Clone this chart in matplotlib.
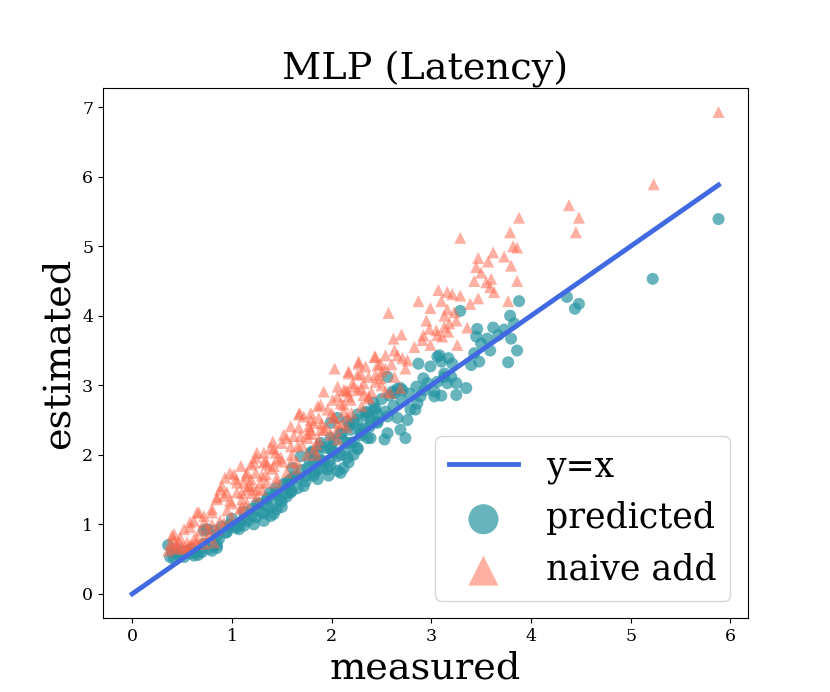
import matplotlib
matplotlib.use('Agg')
import matplotlib.pyplot as plt
import numpy as np

# (measured, estimated) pairs, latency in ms
predicted = np.array([
    [5.88, 5.39], [5.22, 4.53], [4.36, 4.27], [4.48, 4.17], [4.44, 4.10],
    [3.88, 4.21], [3.29, 4.07], [3.79, 4.00], [3.46, 3.81], [3.62, 3.83],
    [3.73, 3.80], [3.83, 3.89], [3.45, 3.70], [3.56, 3.67], [3.67, 3.72],
    [3.80, 3.67], [3.50, 3.60], [3.59, 3.50], [3.86, 3.50], [3.43, 3.46],
    [3.48, 3.34], [3.77, 3.33], [3.08, 3.43], [3.17, 3.39], [2.87, 3.31],
    [2.99, 3.27], [3.10, 3.34], [3.21, 3.31], [3.40, 3.29], [3.13, 3.17],
    [3.20, 3.12], [3.06, 3.05], [3.16, 3.03], [3.25, 3.03], [2.96, 3.03],
    [2.93, 2.93], [3.35, 2.96], [3.25, 2.86], [3.10, 2.85], [3.03, 2.91],
    [2.61, 2.91], [2.69, 2.96], [2.56, 3.12], [2.63, 2.89], [2.71, 2.93],
    [2.43, 2.65], [2.56, 2.55], [2.66, 2.53], [2.76, 2.50], [2.84, 2.65],
    [2.36, 2.55], [2.46, 2.46], [2.56, 2.31], [2.69, 2.36], [2.74, 2.24],
    [2.22, 2.46], [2.29, 2.36], [2.39, 2.24], [2.53, 2.22], [2.09, 2.31],
    [2.19, 2.17], [2.26, 2.08], [1.89, 2.12], [2.02, 2.03], [1.79, 2.03],
    [3.06, 3.41], [3.13, 3.12], [3.03, 2.84], [2.89, 2.84], [2.86, 2.74],
    [2.79, 2.65], [2.44, 2.67], [2.36, 2.60], [2.26, 2.58], [2.16, 2.48],
    [2.39, 2.50], [2.46, 2.58], [2.06, 2.53], [1.99, 2.46], [2.19, 2.36],
    [2.29, 2.31], [2.36, 2.24], [1.99, 2.24], [1.89, 2.17], [1.81, 2.05],
    [2.16, 2.17], [2.26, 2.10], [1.99, 2.08], [2.09, 2.00], [2.16, 1.96],
    [2.22, 2.00], [1.69, 1.98], [1.82, 1.93], [1.92, 1.91], [1.99, 1.84],
    [2.06, 1.77], [2.12, 1.81], [1.61, 1.81], [1.76, 1.81], [1.86, 1.79],
    [1.66, 1.67], [1.82, 1.70], [1.97, 1.70], [1.72, 1.55], [1.86, 1.65],
    [1.57, 1.55], [1.59, 1.65], [1.96, 1.79], [2.09, 1.74], [2.17, 1.89],
    [1.55, 1.60], [1.59, 1.46], [1.45, 1.41], [1.35, 1.27], [1.42, 1.15],
    [1.20, 1.12], [1.12, 1.08], [1.05, 0.98], [0.95, 0.89], [0.85, 0.84],
    [0.82, 0.70], [0.68, 0.62], [0.58, 0.58], [0.48, 0.55], [0.38, 0.53],
    [0.75, 0.93], [1.44, 1.46], [1.35, 1.36], [1.25, 1.29], [1.45, 1.22],
    [1.39, 1.12], [1.32, 1.05], [1.22, 1.00], [1.12, 0.98], [1.07, 0.93],
    [0.98, 0.96], [0.82, 0.91], [0.72, 0.91], [0.87, 0.79], [0.85, 0.70],
    [0.77, 0.65], [0.63, 0.60], [0.52, 0.53], [0.42, 0.50], [0.36, 0.70],
    [0.72, 0.72], [0.40, 0.60], [0.45, 0.58], [0.55, 0.62], [0.60, 0.65],
    [0.66, 0.56], [0.70, 0.60], [0.80, 0.62], [0.85, 0.66], [0.45, 0.65],
    [0.62, 0.55], [1.50, 1.33], [1.55, 1.40], [1.60, 1.48], [1.30, 1.18],
    [1.50, 1.25], [1.00, 1.08], [1.04, 0.95], [1.08, 1.02], [1.12, 1.18],
    [1.16, 1.05], [1.20, 1.22], [1.24, 1.10], [1.28, 1.30], [1.32, 1.16],
    [1.36, 1.38], [1.40, 1.25], [1.44, 1.52], [1.48, 1.36], [1.52, 1.58],
    [1.56, 1.45], [1.62, 1.68], [1.66, 1.52], [1.70, 1.78], [1.74, 1.62],
    [1.78, 1.90], [1.82, 1.75], [1.86, 2.00], [1.90, 1.80], [1.94, 2.10],
    [1.98, 1.92], [2.02, 2.20], [2.06, 1.98], [2.10, 2.30], [2.14, 2.06],
    [2.18, 2.42], [2.22, 2.18], [2.26, 2.50], [2.30, 2.28], [2.34, 2.62],
    [2.38, 2.40], [2.42, 2.75], [2.46, 2.48], [2.50, 2.80], [2.54, 2.62],
    [2.58, 2.85], [2.62, 2.70], [2.66, 2.95], [2.70, 2.78], [2.78, 2.88],
    [2.85, 2.98], [2.92, 3.10], [0.90, 0.97], [0.94, 0.88], [0.98, 1.00],
    [1.38, 1.45], [1.58, 1.62], [1.88, 1.92], [2.12, 2.20], [2.32, 2.38],
    [2.00, 2.10], [1.75, 1.70],
])

naive_add = np.array([
    [5.88, 6.93], [5.23, 5.89], [4.38, 5.59], [4.48, 5.41], [4.45, 5.20],
    [3.88, 5.41], [3.29, 5.12], [3.79, 5.20], [3.82, 5.00], [3.86, 4.98],
    [3.62, 4.91], [3.73, 4.85], [3.47, 4.83], [3.57, 4.78], [3.80, 4.72],
    [3.45, 4.70], [3.50, 4.62], [3.60, 4.53], [3.43, 4.50], [3.55, 4.48],
    [3.86, 4.50], [3.59, 4.41], [3.63, 4.34], [3.07, 4.37], [3.16, 4.34],
    [3.29, 4.29], [3.21, 4.31], [3.47, 4.25], [3.39, 4.17], [3.10, 4.21],
    [3.77, 4.21], [2.87, 4.21], [2.99, 4.11], [3.16, 4.09], [3.23, 4.05],
    [2.57, 4.04], [3.13, 4.00], [2.95, 3.93], [3.25, 3.93], [3.18, 3.89],
    [3.36, 3.83], [2.98, 3.81], [3.05, 3.79], [3.13, 3.84], [3.17, 3.77],
    [2.92, 3.72], [3.06, 3.72], [3.11, 3.70], [2.70, 3.73], [2.62, 3.67],
    [2.83, 3.55], [2.99, 3.58], [2.91, 3.65], [3.26, 3.58], [2.63, 3.50],
    [2.66, 3.43], [2.54, 3.43], [2.44, 3.41], [2.71, 3.39], [2.76, 3.36],
    [2.27, 3.31], [2.34, 3.27], [2.49, 3.31], [2.54, 3.24], [2.17, 3.20],
    [2.26, 3.15], [2.44, 3.15], [2.49, 3.10], [2.63, 3.12], [2.74, 3.24],
    [2.32, 3.03], [2.22, 2.98], [2.54, 2.91], [2.12, 2.93], [2.37, 2.84],
    [2.17, 2.84], [2.03, 3.24], [2.17, 3.17], [2.27, 3.34], [2.43, 3.41],
    [2.46, 3.29], [2.29, 3.17], [2.37, 3.12], [2.44, 3.05], [1.92, 2.91],
    [2.06, 2.98], [2.14, 2.93], [2.26, 2.93], [2.32, 2.86], [2.37, 2.81],
    [2.01, 2.79], [2.09, 2.74], [2.19, 2.79], [1.89, 2.72], [1.96, 2.65],
    [2.12, 2.62], [1.68, 2.60], [1.79, 2.50], [1.87, 2.53], [2.02, 2.53],
    [1.59, 2.41], [1.67, 2.39], [1.79, 2.36], [1.89, 2.36], [1.99, 2.29],
    [1.52, 2.29], [1.62, 2.27], [1.76, 2.24], [1.87, 2.22], [2.06, 2.22],
    [1.41, 2.19], [1.50, 2.17], [1.59, 2.12], [1.32, 2.03], [1.42, 2.08],
    [1.66, 2.12], [1.82, 2.08], [1.24, 1.96], [1.49, 1.96], [1.59, 1.89],
    [1.19, 1.86], [1.32, 1.89], [1.42, 1.84], [1.09, 1.84], [1.02, 1.72],
    [1.14, 1.70], [1.24, 1.74], [1.34, 1.72], [1.45, 1.67], [1.05, 1.60],
    [1.17, 1.55], [1.29, 1.60], [1.39, 2.10], [1.44, 2.03], [1.22, 1.89],
    [1.35, 1.86], [1.15, 1.74], [0.98, 1.74], [1.04, 1.65], [1.12, 1.60],
    [1.19, 1.65], [0.90, 1.55], [0.95, 1.46], [1.05, 1.46], [0.85, 1.39],
    [0.98, 1.34], [1.10, 1.36], [0.67, 1.17], [0.80, 1.17], [0.62, 1.05],
    [0.72, 1.03], [0.88, 1.05], [0.52, 0.93], [0.58, 0.96], [0.68, 0.91],
    [0.42, 0.86], [0.48, 0.81], [0.38, 0.72], [0.47, 0.74], [0.55, 0.74],
    [0.65, 0.79], [0.75, 0.81], [0.36, 0.62], [0.45, 0.65], [0.52, 0.65],
    [0.58, 0.70], [0.72, 0.72], [0.82, 0.74], [2.06, 2.84], [2.16, 2.91],
    [2.21, 3.03], [1.86, 2.70], [1.79, 2.60], [2.12, 2.72], [2.02, 2.55],
    [1.72, 2.55], [1.82, 2.46], [1.92, 2.36], [2.06, 2.46], [2.16, 2.55],
    [1.76, 2.31], [2.59, 2.89], [2.69, 2.96], [1.67, 2.58], [1.55, 2.24],
    [1.69, 2.27], [1.77, 2.41], [1.25, 2.03], [1.34, 1.91], [1.45, 1.93],
    [0.93, 1.67], [1.15, 1.50], [1.35, 1.60], [0.92, 1.41], [0.80, 1.22],
    [0.65, 1.17], [0.72, 1.12], [0.58, 1.03], [0.40, 0.84], [0.62, 0.79],
    [0.88, 1.50], [0.85, 1.36], [0.40, 0.66], [0.44, 0.70], [0.50, 0.68],
    [0.55, 0.66], [0.60, 0.70], [0.65, 0.72], [0.70, 0.76], [0.78, 0.86],
    [0.85, 0.92], [0.92, 1.02], [0.42, 0.77], [1.00, 1.10], [1.08, 1.22],
    [1.15, 1.30], [1.25, 1.40], [1.30, 1.50], [1.20, 1.45], [1.55, 1.75],
    [1.65, 1.90], [1.75, 2.00], [1.85, 2.15], [1.95, 2.40], [2.05, 2.35],
    [1.00, 1.30], [1.10, 1.45], [1.20, 1.55], [1.30, 1.70], [1.40, 1.80],
    [1.50, 1.90], [1.60, 2.00], [1.70, 2.15], [1.80, 2.30], [1.90, 2.45],
    [2.00, 2.60], [2.10, 2.45], [2.20, 2.60], [2.30, 2.70], [2.40, 2.90],
    [2.50, 3.00], [2.30, 2.95], [2.50, 3.20], [2.60, 3.30], [1.25, 1.50],
    [1.45, 1.60], [1.65, 1.80], [1.85, 2.00], [2.15, 2.40], [0.95, 1.20],
    [1.10, 1.25], [0.75, 0.95], [0.80, 1.00],
])

plt.rcParams['font.family'] = 'DejaVu Serif'

fig = plt.figure(figsize=(8.3, 6.92), dpi=100)
ax = fig.add_axes([0.124, 0.107, 0.777, 0.766])

# y=x reference line up to the largest measured value
x_max = max(predicted[:, 0].max(), naive_add[:, 0].max())
ax.plot([0, x_max], [0, x_max], color='royalblue', lw=3.5, label='y=x', zorder=3)

ax.scatter(predicted[:, 0], predicted[:, 1], s=75, marker='o',
           color='#2694a2', alpha=0.7, edgecolors='none', label='predicted')
ax.scatter(naive_add[:, 0], naive_add[:, 1], s=75, marker='^',
           color='tomato', alpha=0.5, edgecolors='none', label='naive add')

ax.set_title('MLP (Latency)', fontsize=27.5)
ax.set_xlabel('measured', fontsize=27.5)
ax.set_ylabel('estimated', fontsize=27.5)
ax.tick_params(labelsize=12.5)

ax.legend(loc='lower right', fontsize=25, markerscale=2.5)

fig.savefig('out.png', dpi=100)
